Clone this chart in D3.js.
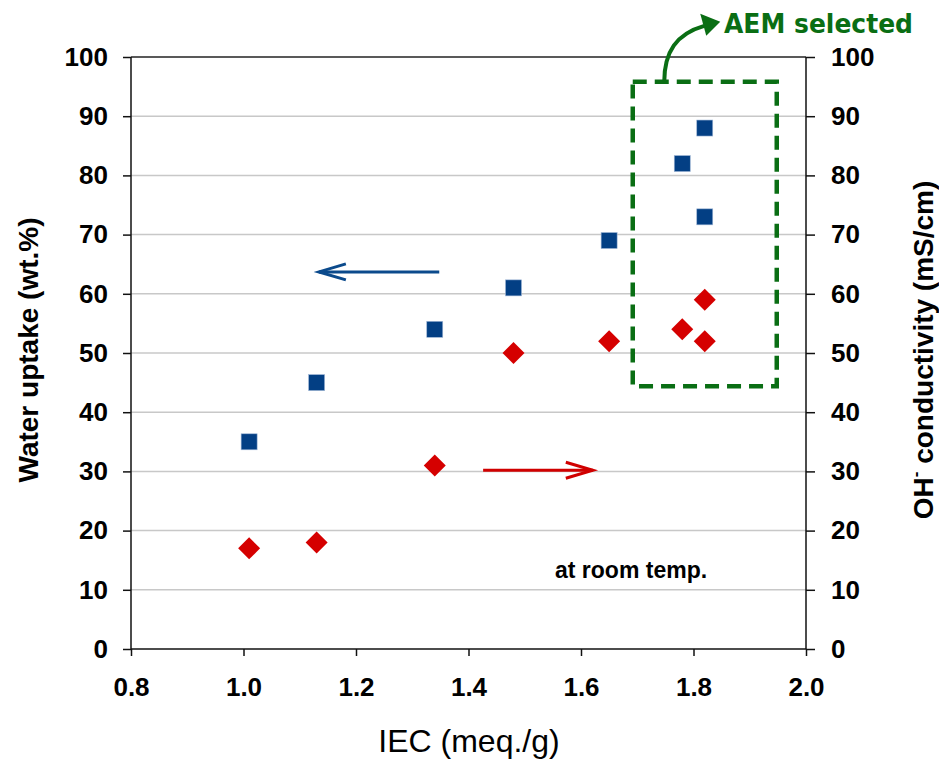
<!DOCTYPE html>
<html><head><meta charset="utf-8">
<script src="https://cdn.jsdelivr.net/npm/d3@7"></script>
<style>body{margin:0;background:#fff}</style>
</head><body>
<svg id="c" width="939" height="759"></svg>
<script>
const iec = [1.01, 1.13, 1.34, 1.48, 1.65, 1.78, 1.82, 1.82];
const waterUptake = [35, 45, 54, 61, 69, 82, 88, 73];
const conductivity = [17, 18, 31, 50, 52, 54, 59, 52];
const xTicks = [0.8, 1.0, 1.2, 1.4, 1.6, 1.8, 2.0];
const yTicks = [0, 10, 20, 30, 40, 50, 60, 70, 80, 90, 100];
const selectBox = {x0: 1.692, x1: 1.948, y0: 44.4, y1: 95.8};

const svg = d3.select("#c");
const L = 131, R = 806, T = 57, B = 649;
const x = d3.scaleLinear().domain([0.8, 2.0]).range([L, R]);
const yL = d3.scaleLinear().domain([0, 100]).range([B, T]);
const yR = d3.scaleLinear().domain([0, 100]).range([B, T]);
const font = "'Liberation Sans', Arial, sans-serif";

// gridlines
svg.append("g").selectAll("line").data(yTicks.filter(d => d > 0 && d < 100)).join("line")
  .attr("x1", L).attr("x2", R).attr("y1", d => yL(d)).attr("y2", d => yL(d))
  .attr("stroke", "#c8c8c8").attr("stroke-width", 1.5);
// top border
svg.append("line").attr("x1", L).attr("x2", R).attr("y1", T).attr("y2", T)
  .attr("stroke", "#222").attr("stroke-width", 1.5);

// axes
const gx = svg.append("g").attr("transform", `translate(0,${B})`)
  .call(d3.axisBottom(x).tickValues(xTicks).tickFormat(d3.format(".1f")).tickSize(7).tickPadding(22));
const gl = svg.append("g").attr("transform", `translate(${L},0)`)
  .call(d3.axisLeft(yL).tickValues(yTicks).tickSize(8).tickPadding(15));
const gr = svg.append("g").attr("transform", `translate(${R},0)`)
  .call(d3.axisRight(yR).tickValues(yTicks).tickSize(9).tickPadding(16));
[gx, gl, gr].forEach(g => {
  g.select(".domain").attr("stroke", "#111").attr("stroke-width", 1.5);
  g.selectAll(".tick line").attr("stroke", "#111").attr("stroke-width", 1.5);
  g.selectAll(".tick text").attr("font-family", font).attr("font-weight", "bold")
    .attr("font-size", 26).attr("fill", "#000");
});
gx.select(".domain").attr("d", `M${L},0H${R}`);
gl.select(".domain").attr("d", `M0,${T}V${B}`);
gr.select(".domain").attr("d", `M0,${T}V${B}`);

// axis titles
svg.append("text").attr("x", 469).attr("y", 752).attr("text-anchor", "middle")
  .attr("font-family", font).attr("font-size", 32).attr("fill", "#000").text("IEC (meq./g)");
svg.append("text").attr("transform", "translate(38,350) rotate(-90)").attr("text-anchor", "middle")
  .attr("font-family", font).attr("font-weight", "bold").attr("font-size", 28).attr("fill", "#000")
  .text("Water uptake (wt.%)");
const rt = svg.append("text").attr("transform", "translate(933,350) rotate(-90)").attr("text-anchor", "middle")
  .attr("font-family", font).attr("font-weight", "bold").attr("font-size", 28).attr("fill", "#000");
rt.append("tspan").text("OH");
rt.append("tspan").attr("dy", -12).attr("font-size", 17).text("-");
rt.append("tspan").attr("dy", 12).text(" conductivity (mS/cm)");

// selection box
svg.append("rect").attr("x", x(selectBox.x0)).attr("y", yL(selectBox.y1))
  .attr("width", x(selectBox.x1) - x(selectBox.x0)).attr("height", yL(selectBox.y0) - yL(selectBox.y1))
  .attr("fill", "none").attr("stroke", "#0a6e14").attr("stroke-width", 4.5).attr("stroke-dasharray", "14,8");

// markers
svg.append("g").selectAll("rect").data(iec.map((v, i) => [v, waterUptake[i]])).join("rect")
  .attr("x", d => x(d[0]) - 8).attr("y", d => yL(d[1]) - 8).attr("width", 16).attr("height", 16)
  .attr("fill", "#033f84").attr("stroke", "#9fb6d6").attr("stroke-width", 0.6);
svg.append("g").selectAll("path").data(iec.map((v, i) => [v, conductivity[i]])).join("path")
  .attr("d", d => { const cx = x(d[0]), cy = yR(d[1]), r = 11; return `M${cx},${cy - r}L${cx + r},${cy}L${cx},${cy + r}L${cx - r},${cy}Z`; })
  .attr("fill", "#d50000");

// direction arrows
function arrow(x1, x2, yv, color) {
  const px1 = x(x1), px2 = x(x2), py = yL(yv), dir = Math.sign(px2 - px1);
  const g = svg.append("g").attr("stroke", color).attr("stroke-width", 3).attr("fill", "none");
  g.append("line").attr("x1", px1).attr("x2", px2).attr("y1", py).attr("y2", py);
  g.append("path").attr("d", `M${px2 - dir * 27},${py - 8}L${px2},${py}L${px2 - dir * 27},${py + 8}`);
}
arrow(1.348, 1.134, 63.7, "#0b4a8c");
arrow(1.426, 1.621, 30.2, "#d00000");

// green annotation arrow
const sx = x(1.748), sy = yL(selectBox.y1);
svg.append("path").attr("d", `M${sx},${sy} C${sx},${sy - 30} ${sx + 12},${sy - 48} ${sx + 40},${sy - 56}`)
  .attr("fill", "none").attr("stroke", "#0a6e14").attr("stroke-width", 4);
svg.append("path").attr("d", `M${sx + 56},${sy - 60} L${sx + 36},${sy - 68} L${sx + 42},${sy - 46} Z`)
  .attr("fill", "#0a6e14");
svg.append("text").attr("x", 724).attr("y", 33).attr("font-family", "'Comic Sans MS', 'DejaVu Sans', sans-serif")
  .attr("font-weight", "bold").attr("font-size", 27).attr("fill", "#0a6e14")
  .attr("textLength", 189).attr("lengthAdjust", "spacingAndGlyphs").text("AEM selected");

svg.append("text").attr("x", 555).attr("y", 578).attr("font-family", font).attr("font-weight", "bold")
  .attr("font-size", 23).attr("fill", "#000").text("at room temp.");
</script>
</body></html>
